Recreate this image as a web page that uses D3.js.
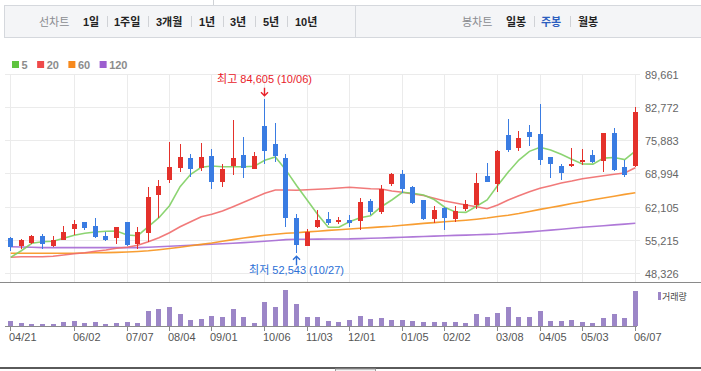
<!DOCTYPE html>
<html>
<head>
<meta charset="utf-8">
<script src="https://cdn.jsdelivr.net/npm/d3@7"></script>
<style>
  body { margin: 0; background: #fff; }
  svg { display: block; font-family: "Liberation Sans", "Noto Sans CJK KR", sans-serif; }
</style>
</head>
<body>
<script>
// weekly candles, 04/21 .. 06/07
var opens  = [55640,54040,54660,56120,54040,55350,57630,59020,58190,56120,55760,59020,54450,56800,64690,67810,70300,72320,70300,72730,
              67400,70720,72940,70100,78970,75230,72320,59850,54100,57990,59650,59020,59440,59290,63390,61100,66920,68990,66290,63590,
              59650,61930,59650,61720,62560,68580,66920,77100,74400,77720,77300,72530,70660,70660,71490,72940,71700,77510,70450,70660];
var highs  = [55850,55490,56320,56530,56120,58190,59440,59100,59850,56950,58050,59100,57990,66290,67750,75640,75230,73150,75430,74190,
              71070,80210,76680,73560,84605,79590,73150,60690,57570,61520,61100,60060,60480,64010,63800,66710,69200,69830,66500,63650,
              62350,62140,62350,63590,69200,71280,73980,80420,77930,79170,83540,72600,71070,74400,74190,73980,77600,78550,71900,82850];
var lows   = [53060,53350,54520,53420,53770,55300,56320,57360,55760,55080,54450,54040,53480,54870,59920,67190,69470,68430,69680,65940,
              66360,68850,68230,70000,71130,71550,58050,52543,54000,57780,58400,58670,57990,57420,60480,60690,66500,65050,62760,59440,
              58820,57360,59020,61310,61720,67300,65260,73560,73770,74810,70860,68160,67750,70450,70860,71280,69410,69620,68370,70450];
var closes = [53890,55290,56120,54450,55290,56950,58610,57780,55970,55290,57990,54250,56950,64220,66500,70450,72530,70100,72530,67400,
              70030,72320,70300,72730,73830,72800,59920,54310,56950,59440,58820,59440,58820,63180,61100,65880,68990,65880,62970,59650,
              61520,59850,61310,62760,67130,67330,73770,73980,76470,76680,71900,71070,69200,71070,71900,71490,77510,69830,68790,81870];
var volumes = [53,33,23,23,23,43,53,33,43,23,33,43,33,153,173,193,123,63,73,103,
               93,173,93,33,243,193,363,223,93,93,53,43,63,103,73,83,63,63,53,43,
               43,43,43,33,123,93,133,193,93,93,153,53,53,63,43,33,83,123,83,353];

// moving averages
var ma5   = [51690,53060,54600,54930,55010,55640,56260,56680,56950,57090,57150,56320,56180,58050,59920,62410,66360,68930,70390,70660,
             70510,70510,70510,70590,71840,72530,69800,66600,63590,60600,57920,57920,59090,59920,60330,62200,63590,65190,64990,64650,
             63700,62100,61100,61030,62300,63600,66600,69400,71900,73700,74550,74000,73080,72050,71080,71040,72300,72410,71980,73750];
var ma20  = [51690,51820,51820,51820,51900,52170,52440,52650,52940,53210,53560,53770,54180,54930,55760,56800,58050,59090,60120,60620,
             61310,62200,63120,64070,64990,65670,65670,65610,65730,65820,65940,66090,66230,66090,65940,65880,65460,65190,64840,64530,
             63950,63390,62970,62550,62200,61790,62550,63590,64490,65320,66020,66560,67120,67540,68020,68310,68640,68930,69200,70300];
var ma60  = [52520,52520,52520,52520,52520,52520,52540,52580,52630,52670,52710,52790,52900,53040,53270,53520,53790,54080,54370,54660,
             55010,55370,55700,55990,56260,56490,56680,56800,56970,57110,57280,57420,57570,57710,57860,58010,58150,58340,58530,58730,
             58900,59070,59230,59400,59610,59850,60150,60440,60790,61200,61640,62040,62430,62850,63240,63640,64010,64380,64760,65110];
var ma120 = [53890,53830,53770,53710,53710,53710,53710,53710,53710,53710,53710,53710,53710,53790,53870,53980,54080,54180,54290,54410,
             54520,54620,54740,54870,55010,55180,55370,55430,55450,55470,55490,55490,55510,55580,55640,55700,55780,55850,55930,56010,
             56090,56160,56240,56300,56390,56450,56530,56680,56820,56970,57150,57340,57530,57710,57920,58090,58260,58420,58590,58750];

var priceTicks = [48326, 55215, 62105, 68994, 75883, 82772, 89661];
var tickWeeks  = [0, 6, 11, 15, 19, 24, 28, 32, 37, 41, 46, 50, 54, 59];
var tickLabels = ['04/21','06/02','07/07','08/04','09/01','10/06','11/03','12/01','01/05','02/02','03/08','04/05','05/03','06/07'];
var highDate = '10/06', lowDate = '10/27';

var maNames  = ['5', '20', '60', '120'];
var maColors = ['#5fc43f', '#ef4a4a', '#f7891c', '#9d5fcf'];
var maLines  = ['#7fcf63', '#f06c6c', '#f7941d', '#a66ad4'];

var leftTabs  = ['1일', '1주일', '3개월', '1년', '3년', '5년', '10년'];
var rightTabs = ['일봉', '주봉', '월봉'];

var upColor = '#e4312b', downColor = '#3a7ce2';

var svg = d3.select('body').append('svg').attr('width', 701).attr('height', 371);

// ---- top tab bar ----
svg.append('line').attr('x1', 213.5).attr('x2', 213.5).attr('y1', 0).attr('y2', 5).attr('stroke', '#cfd2d6');
svg.append('rect').attr('x', 4.5).attr('y', 5.5).attr('width', 700).attr('height', 32)
  .attr('fill', '#f4f5f7').attr('stroke', '#d5d8dd');
svg.append('line').attr('x1', 355.5).attr('x2', 355.5).attr('y1', 6).attr('y2', 37).attr('stroke', '#d5d8dd');

// tab strip layout (x of each item)
var leftTabX  = [83, 114, 156, 199, 230, 263, 295];
var rightTabX = [506, 541, 578];

var tabs = svg.append('g').attr('font-size', 11);
tabs.append('text').attr('x', 39).attr('y', 25.5).attr('fill', '#8a8c90').text('선차트');
leftTabs.forEach(function(t, i) {
  var tx = tabs.append('text').attr('x', leftTabX[i]).attr('y', 25.5).attr('fill', '#222').attr('font-weight', 'bold').text(t);
  var w = tx.node().getComputedTextLength();
  if (i < leftTabs.length - 1) {
    var sx = Math.round((leftTabX[i] + w + leftTabX[i + 1]) / 2) + 0.5;
    tabs.append('line').attr('x1', sx).attr('x2', sx).attr('y1', 16).attr('y2', 27).attr('stroke', '#d0d2d6');
  }
});
tabs.append('text').attr('x', 462).attr('y', 25.5).attr('fill', '#8a8c90').text('봉차트');
rightTabs.forEach(function(t, i) {
  var tx = tabs.append('text').attr('x', rightTabX[i]).attr('y', 25.5).attr('font-weight', 'bold')
    .attr('fill', t === '주봉' ? '#2d5fbf' : '#222').text(t);
  var w = tx.node().getComputedTextLength();
  if (i < rightTabs.length - 1) {
    var sx = Math.round((rightTabX[i] + w + rightTabX[i + 1]) / 2) + 0.5;
    tabs.append('line').attr('x1', sx).attr('x2', sx).attr('y1', 16).attr('y2', 27).attr('stroke', '#d0d2d6');
  }
});

// ---- legend ----
var lg = svg.append('g').attr('font-size', 11).attr('font-weight', 'bold');
var lx = 12;
maNames.forEach(function(n, i) {
  lg.append('rect').attr('x', lx).attr('y', 61).attr('width', 7).attr('height', 7).attr('fill', maColors[i]);
  var t = lg.append('text').attr('x', lx + 9.5).attr('y', 68.5).attr('fill', '#8c8c8c').text(n);
  lx = lx + 9.5 + t.node().getComputedTextLength() + 9.5;
});

// ---- scales ----
var x = d3.scaleLinear().domain([0, closes.length - 1]).range([10.7, 635.3]);
var y = d3.scaleLinear().domain([priceTicks[0], priceTicks[priceTicks.length - 1]]).range([273.5, 74.5]);
var yv = d3.scaleLinear().domain([0, d3.max(volumes)]).range([326, 290]);
function px(i) { return Math.floor(x(i)); }

// ---- grid ----
var grid = svg.append('g').attr('stroke', '#ebebeb').attr('stroke-width', 1);
priceTicks.forEach(function(t) {
  var gy = Math.floor(y(t)) + 0.5;
  grid.append('line').attr('x1', 5).attr('x2', 640).attr('y1', gy).attr('y2', gy);
});
tickWeeks.forEach(function(i) {
  grid.append('line').attr('x1', px(i) + 0.5).attr('x2', px(i) + 0.5).attr('y1', 74.5).attr('y2', 282);
});

// price labels
svg.append('g').attr('font-size', 11).attr('fill', '#666')
  .selectAll('text').data(priceTicks).enter().append('text')
  .attr('x', 645).attr('y', function(d) { return Math.floor(y(d)) + 4.5; })
  .text(d3.format(','));

// ---- moving average lines ----
var line = d3.line().x(function(d, i) { return x(i); }).y(function(d) { return y(d); });
[ma120, ma60, ma20, ma5].forEach(function(s, k) {
  svg.append('path').datum(s).attr('d', line).attr('fill', 'none')
    .attr('stroke', maLines[3 - k]).attr('stroke-width', 1.6).attr('stroke-opacity', 0.9);
});

// ---- candles ----
var candles = svg.append('g').attr('shape-rendering', 'crispEdges');
closes.forEach(function(c, i) {
  var o = opens[i], up = c >= o, col = up ? upColor : downColor;
  candles.append('line').attr('x1', px(i) + 0.5).attr('x2', px(i) + 0.5)
    .attr('y1', y(highs[i])).attr('y2', y(lows[i])).attr('stroke', col);
  var top = y(Math.max(o, c)), bot = y(Math.min(o, c));
  candles.append('rect').attr('x', px(i) - 2).attr('width', 5)
    .attr('y', top).attr('height', Math.max(1.5, bot - top)).attr('fill', col);
});

// ---- high / low markers ----
var fmt = d3.format(',');
var hi = d3.maxIndex(highs), lo = d3.minIndex(lows);
var hx = px(hi) + 0.5, hy = y(highs[hi]);
svg.append('text').attr('x', hx).attr('y', hy - 16).attr('text-anchor', 'middle')
  .attr('font-size', 11).attr('fill', '#e8212a').text('최고 ' + fmt(highs[hi]) + ' (' + highDate + ')');
svg.append('path').attr('d', 'M' + hx + ',' + (hy - 11) + 'V' + (hy - 3) + 'M' + (hx - 3.5) + ',' + (hy - 6.5) + 'L' + hx + ',' + (hy - 3) + 'L' + (hx + 3.5) + ',' + (hy - 6.5))
  .attr('fill', 'none').attr('stroke', '#e8212a').attr('stroke-width', 1.4);
var lxp = px(lo) + 0.5, ly = y(lows[lo]);
svg.append('text').attr('x', lxp).attr('y', ly + 21).attr('text-anchor', 'middle')
  .attr('font-size', 11).attr('fill', '#2c6fd6').text('최저 ' + fmt(lows[lo]) + ' (' + lowDate + ')');
svg.append('path').attr('d', 'M' + lxp + ',' + (ly + 12) + 'V' + (ly + 3) + 'M' + (lxp - 3.5) + ',' + (ly + 6.5) + 'L' + lxp + ',' + (ly + 3) + 'L' + (lxp + 3.5) + ',' + (ly + 6.5))
  .attr('fill', 'none').attr('stroke', '#2c6fd6').attr('stroke-width', 1.4);

// ---- panel separator ----
svg.append('line').attr('x1', 0).attr('x2', 701).attr('y1', 282.5).attr('y2', 282.5).attr('stroke', '#8a8a8a');

// ---- volume ----
svg.append('g').attr('shape-rendering', 'crispEdges')
  .selectAll('rect').data(volumes).enter().append('rect')
  .attr('x', function(d, i) { return px(i) - 2; }).attr('width', 5)
  .attr('y', function(d) { return yv(d); })
  .attr('height', function(d) { return 326 - yv(d); })
  .attr('fill', '#9c86c7');
svg.append('line').attr('x1', 5).attr('x2', 637).attr('y1', 326.5).attr('y2', 326.5).attr('stroke', '#8a8a8a');
svg.append('rect').attr('x', 658).attr('y', 292).attr('width', 3).attr('height', 8).attr('fill', '#9c86c7');
svg.append('text').attr('x', 662).attr('y', 299.5).attr('font-size', 9).attr('fill', '#444').text('거래량');

// date axis
var ax = svg.append('g');
tickWeeks.forEach(function(i, k) {
  ax.append('line').attr('x1', px(i) + 0.5).attr('x2', px(i) + 0.5).attr('y1', 327).attr('y2', 331).attr('stroke', '#8a8a8a');
  ax.append('text').attr('x', px(i) - 1).attr('y', 341).attr('font-size', 11).attr('fill', '#555').text(tickLabels[k]);
});

// ---- bottom bar ----
svg.append('rect').attr('x', 0).attr('y', 367).attr('width', 701).attr('height', 2).attr('fill', '#5a5a5a');
svg.append('rect').attr('x', 335.5).attr('y', 369).attr('width', 40).attr('height', 3).attr('fill', '#f3f3f3').attr('stroke', '#999');
</script>
</body>
</html>
